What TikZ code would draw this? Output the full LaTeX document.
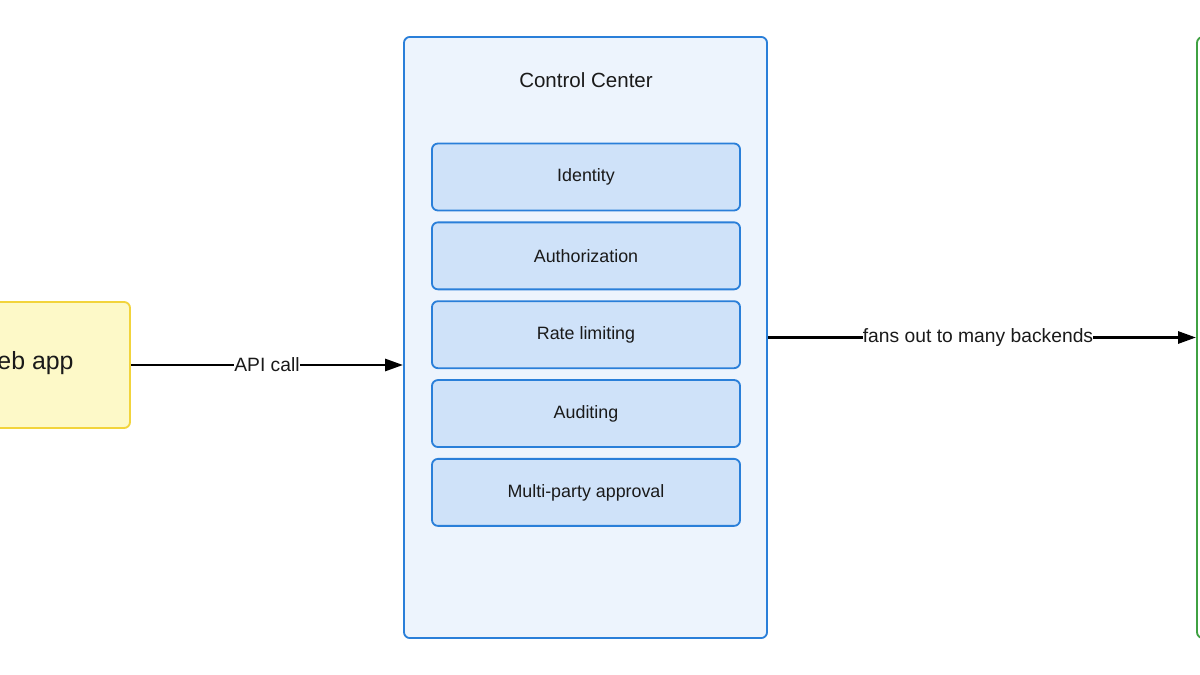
\documentclass[tikz,border=0pt]{standalone}
\usepackage{fontspec}
\setmainfont{Liberation Sans}
\usetikzlibrary{arrows.meta,positioning,calc}
\definecolor{ccblue}{HTML}{2A7FD9}
\definecolor{ccfill}{HTML}{EDF4FD}
\definecolor{modfill}{HTML}{CFE2F9}
\definecolor{appyellow}{HTML}{F2D43C}
\definecolor{appfill}{HTML}{FDF9C8}
\definecolor{begreen}{HTML}{3FA142}
\definecolor{txtdark}{HTML}{1A1A1A}

\begin{document}
\begin{tikzpicture}[x=0.025cm,y=-0.025cm,
      box/.style={draw,rounded corners=0.15cm,line width=1.3pt,align=center,text=txtdark,inner sep=0pt},
      module/.style={box,draw=ccblue,fill=modfill,minimum width=7.7cm,minimum height=1.675cm,font=\fontsize{12.7}{15}\selectfont},
      arr/.style={-{Triangle[length=0.45cm,width=0.3cm]},line width=2pt,draw=black},
      lbl/.style={fill=white,inner sep=0pt,text=txtdark,font=\fontsize{13.7}{16}\selectfont}]
    \useasboundingbox (0,0) rectangle (1200,675);
    \clip (0,0) rectangle (1200,675);
    \fill[white] (0,0) rectangle (1200,675);
    \node[box,draw=appyellow,fill=appfill,minimum width=5.05cm,minimum height=3.15cm] (web) at (29,365) {};
    \node[text=txtdark,font=\fontsize{17.7}{20}\selectfont] (webtxt) at (24,363) {Web app};
    \node[box,draw=ccblue,fill=ccfill,minimum width=9.075cm,minimum height=15.025cm] (cc) at (585.5,337.5) {};
    \node[text=txtdark,font=\fontsize{14.6}{17}\selectfont] (cctitle) at (586,80) {Control Center};
    \node[module] (ident) at (586,177) {Identity};
    \node[module,below=0.25cm of ident] (authz) {Authorization};
    \node[module,below=0.25cm of authz] (rate) {Rate limiting};
    \node[module,below=0.25cm of rate] (audit) {Auditing};
    \node[module,below=0.25cm of audit] (mpa) {Multi-party approval};
    \node[box,draw=begreen,fill=white,minimum width=7.5cm,minimum height=15.025cm] (be) at (1347,337.5) {};
    \draw[arr] (web.east) -- node[lbl] {API call} (web -| cc.west);
    \draw[arr] (cc.east) -- node[lbl,xshift=-0.1cm] {fans out to many backends} (be.west);
  \end{tikzpicture}
\end{document}
